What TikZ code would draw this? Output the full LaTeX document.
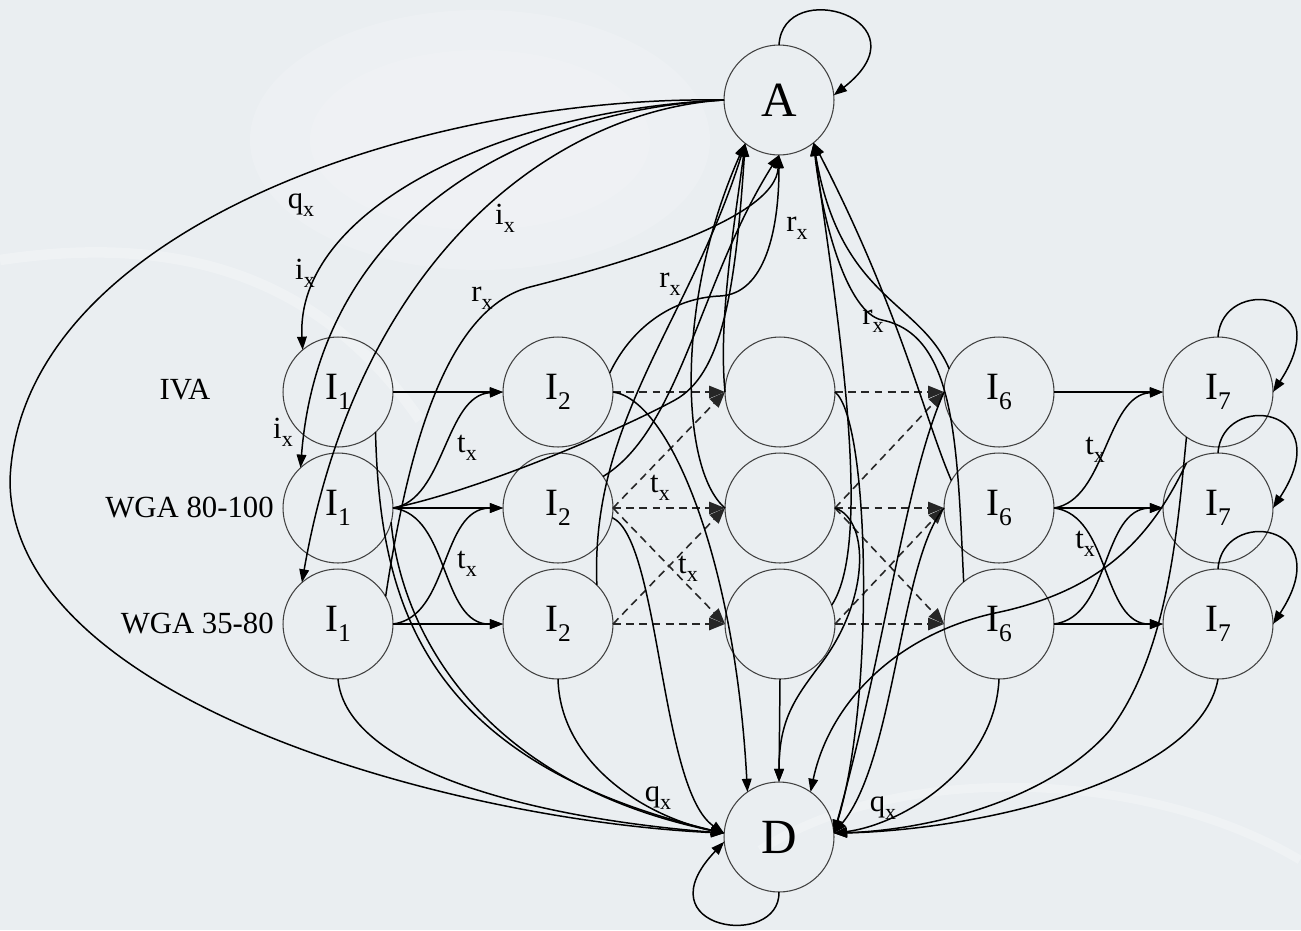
\documentclass[tikz,border=0pt]{standalone}
\usepackage{fontspec}
\setmainfont{Liberation Serif}
\usetikzlibrary{arrows.meta}
\definecolor{bgc}{RGB}{234,238,241}
\newcommand{\sx}{\raisebox{-4.5pt}{\fontsize{12.5}{12.5}\selectfont x}}
\newcommand{\nsub}[1]{\raisebox{-5.5pt}{\fontsize{14.5}{14.5}\selectfont #1}}
\tikzset{
  st/.style={circle, draw=black!75, line width=0.6pt, minimum size=2.2cm, inner sep=0pt, outer sep=0pt, font=\fontsize{22}{22}\selectfont},
  bigst/.style={st, font=\fontsize{28}{28}\selectfont},
  ln/.style={line width=0.85pt, draw=black},
  ar/.style={ln, -{Triangle[length=7.5pt,width=5.5pt]}},
  da/.style={line width=0.9pt, draw=black!85, dash pattern=on 4.5pt off 3pt, -{Triangle[length=9pt,width=7pt]}},
  lbl/.style={font=\fontsize{17.5}{17.5}\selectfont, inner sep=0pt},
}
\begin{document}
\begin{tikzpicture}[x=0.02cm, y=-0.02cm]
\useasboundingbox (0,0) rectangle (1301,930);
\fill[bgc] (0,0) rectangle (1301,930);
\fill[white, opacity=0.15] (480,140) ellipse (230 and 130);
\fill[white, opacity=0.12] (480,140) ellipse (170 and 90);
\draw[white, line width=6pt, opacity=0.25] (0,260) .. controls (200,230) and (330,290) .. (420,420);
\draw[white, line width=5pt, opacity=0.25] (760,850) .. controls (900,760) and (1150,770) .. (1300,860);

% nodes
\node[bigst] (A) at (779,100) {A};
\node[bigst] (D) at (779,837) {D};
\node[st] (a1) at (338,392) {I\nsub{1}};
\node[st] (a2) at (338,508) {I\nsub{1}};
\node[st] (a3) at (338,624) {I\nsub{1}};
\node[st] (b1) at (558,392) {I\nsub{2}};
\node[st] (b2) at (558,508) {I\nsub{2}};
\node[st] (b3) at (558,624) {I\nsub{2}};
\node[st] (c1) at (780,392) {};
\node[st] (c2) at (780,508) {};
\node[st] (c3) at (780,624) {};
\node[st] (d1) at (999,392) {I\nsub{6}};
\node[st] (d2) at (999,508) {I\nsub{6}};
\node[st] (d3) at (999,624) {I\nsub{6}};
\node[st] (e1) at (1218,392) {I\nsub{7}};
\node[st] (e2) at (1218,508) {I\nsub{7}};
\node[st] (e3) at (1218,624) {I\nsub{7}};

% row labels
\node[lbl] (g1) at (185,390) {IVA};
\node[lbl, anchor=east] (g2) at (274,508) {WGA 80-100};
\node[lbl, anchor=east] (g3) at (274,623) {WGA 35-80};

% fan from A
\draw[ar] (A.west) .. controls (420,95) and (20,230) .. (10,480) .. controls (10,700) and (450,820) .. (D.176);
\draw[ar] (A.west) .. controls (500,110) and (295,210) .. (a1.130);
\draw[ar] (A.west) .. controls (520,110) and (320,220) .. (a2.133);
\draw[ar] (A.west) .. controls (560,110) and (360,250) .. (a3.131);

% self loops
\draw[ar] (A.north) .. controls (783,-25) and (930,20) .. (A.5);
\draw[ar] (D.south) .. controls (780,950) and (640,930) .. (D.185);
\draw[ar] (e1.north) .. controls (1222,275) and (1340,290) .. (e1.east);
\draw[ar] (e2.north) .. controls (1222,391) and (1340,406) .. (e2.east);
\draw[ar] (e3.north) .. controls (1222,507) and (1340,522) .. (e3.east);

% horizontal
\draw[ar] (a1.east) -- (b1.west);
\draw[ar] (a2.east) -- (b2.west);
\draw[ar] (a3.east) -- (b3.west);
\draw[ar] (d1.east) -- (e1.west);
\draw[ar] (d2.east) -- (e2.west);
\draw[ar] (d3.east) -- (e3.west);

% t_x solid
\draw[ar] (a2.east) .. controls (445,500) and (445,395) .. (b1.west);
\draw[ar] (a2.east) .. controls (450,515) and (440,625) .. (b3.west);
\draw[ar] (a3.east) .. controls (450,617) and (440,508) .. (b2.west);
\draw[ar] (d2.east) .. controls (1106,500) and (1106,395) .. (e1.west);
\draw[ar] (d2.east) .. controls (1111,515) and (1101,625) .. (e3.west);
\draw[ar] (d3.east) .. controls (1111,617) and (1101,508) .. (e2.west);

% dashed
\draw[da] (b1.east) -- (c1.west);
\draw[da] (b2.east) -- (c1.west);
\draw[da] (b2.east) -- (c2.west);
\draw[da] (b2.east) -- (c3.west);
\draw[da] (b3.east) -- (c2.west);
\draw[da] (b3.east) -- (c3.west);
\draw[da] (c1.east) -- (d1.west);
\draw[da] (c2.east) -- (d1.west);
\draw[da] (c2.east) -- (d2.west);
\draw[da] (c2.east) -- (d3.west);
\draw[da] (c3.east) -- (d2.west);
\draw[da] (c3.east) -- (d3.west);

% r_x to A
\draw[ar] (a3.30) .. controls (405,470) and (440,310) .. (530,287) .. controls (620,264) and (775,220) .. (A.270);
\draw[ar] (b1.20) .. controls (630,330) and (670,298) .. (720,296) .. controls (765,294) and (779,230) .. (A.270);
\draw[ar] (a2.east) .. controls (480,490) and (620,430) .. (675,400) .. controls (720,375) and (735,300) .. (A.232);
\draw[ar] (b3.45) .. controls (590,420) and (690,320) .. (A.232);
\draw[ar] (b2.35) .. controls (680,430) and (700,280) .. (A.270);
\draw[ar] (c1.west) .. controls (718,320) and (735,220) .. (A.232);
\draw[ar] (c2.west) .. controls (680,470) and (675,300) .. (A.232);
\draw[ar] (c3.20) .. controls (875,540) and (835,300) .. (A.309);
\draw[ar] (d3.130) .. controls (957,440) and (955,335) .. (882,320) .. controls (847,313) and (822,220) .. (A.309);
\draw[ar] (d1.155) .. controls (920,300) and (840,300) .. (A.309);
\draw[ar] (d2.150) .. controls (925,420) and (900,310) .. (A.309);

% q_x to D
\draw[ar] (b1.east) .. controls (670,400) and (735,560) .. (D.125);
\draw[ar] (a1.-47) .. controls (380,600) and (420,760) .. (D.176);
\draw[ar] (a2.-15) .. controls (400,620) and (470,780) .. (D.176);
\draw[ar] (a3.south) .. controls (345,760) and (500,815) .. (D.176);
\draw[ar] (b2.-10) .. controls (660,540) and (660,790) .. (D.176);
\draw[ar] (b3.south) .. controls (560,760) and (640,815) .. (D.176);
\draw[ar] (c3.south) -- (D.north);
\draw[ar] (c2.east) .. controls (870,520) and (870,600) .. (820,665) .. controls (795,698) and (779,720) .. (D.north);
\draw[ar] (c1.east) .. controls (870,420) and (875,700) .. (D.4);
\draw[ar] (d1.west) .. controls (905,480) and (885,650) .. (D.4);
\draw[ar] (d2.west) .. controls (900,560) and (895,760) .. (D.4);
\draw[ar] (d3.south) .. controls (995,770) and (900,825) .. (D.4);
\draw[ar] (e1.235) .. controls (1178,520) and (1170,650) .. (1110,730) .. controls (1050,800) and (930,830) .. (D.4);
\draw[ar] (e2.125) .. controls (1150,540) and (1100,590) .. (1000,612) .. controls (900,632) and (830,700) .. (D.55);
\draw[ar] (e3.south) .. controls (1200,780) and (980,830) .. (D.4);

% edge labels
\node[lbl] (lq1) at (301,205) {q\sx};
\node[lbl] (lq2) at (658,798) {q\sx};
\node[lbl] (lq3) at (883,808) {q\sx};
\node[lbl] (li1) at (305,273) {i\sx};
\node[lbl] (li2) at (505,218) {i\sx};
\node[lbl] (li3) at (283,432) {i\sx};
\node[lbl] (lr1) at (482,298) {r\sx};
\node[lbl] (lr2) at (670,284) {r\sx};
\node[lbl] (lr3) at (797,228) {r\sx};
\node[lbl] (lr4) at (873,321) {r\sx};
\node[lbl] (lt1) at (467,448) {t\sx};
\node[lbl] (lt2) at (467,564) {t\sx};
\node[lbl] (lt3) at (660,488) {t\sx};
\node[lbl] (lt4) at (688,569) {t\sx};
\node[lbl] (lt5) at (1095,450) {t\sx};
\node[lbl] (lt6) at (1085,544) {t\sx};
\end{tikzpicture}
\end{document}
